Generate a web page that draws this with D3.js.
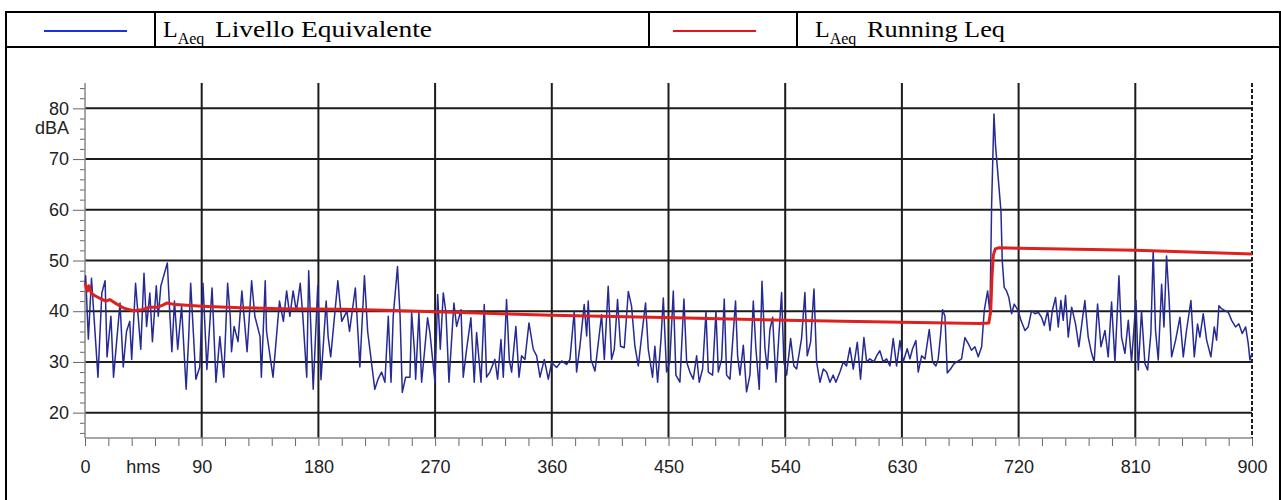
<!DOCTYPE html>
<html>
<head>
<meta charset="utf-8">
<script src="https://cdn.jsdelivr.net/npm/d3@7"></script>
<style>
  body { margin: 0; background: #fff; }
  svg { display: block; }
</style>
</head>
<body>
<svg id="chart" width="1281" height="500"></svg>
<script>
// ---------- data ----------
const yMajorTicks = [20, 30, 40, 50, 60, 70, 80];
const xMajorTicks = [0, 90, 180, 270, 360, 450, 540, 630, 720, 810, 900];

// LAeq (blue), [seconds, dBA], one array per quarter of the record
const laeqQ1 = [[0,45],[0.5,47],[2.6,34.5],[5,46.5],[10,27],[13,43.6],[15.5,46],[17,31],[20,39],[22,27],
  [27,41.6],[29.5,29],[32,36],[34.5,38],[36,30.5],[39,45.5],[43,32.5],[45.5,47.5],[47.5,37],[50,43.6],
  [52,34],[55,45],[56.5,39],[58.5,45],[63.5,49.5],[65.5,39],[67,32],[69,42],[71.5,32.5],[74.5,41],
  [78,24.6],[80,35],[81.5,45.5],[85.5,26.6],[88.5,29],[91,45.5],[94,28.5],[98,44.6],[101,26],[104,35],
  [107,27],[110,45.5],[112,39],[113,32],[115,37],[118,34],[121,44],[125,32],[128.5,46],[131,39],
  [135,35],[136,27],[139,46],[140,36],[145,27],[150,42],[153,38],[155.5,44],[158,39],[160.5,44],
  [163,40],[166,45.5],[168,39],[171,27],[172.5,48],[176,24.6],[179.5,45],[182,26.5],[186,42],[187.5,35],
  [189.5,31],[195,46],[198,38],[202,40],[204,36],[208.5,44.6],[212,29],[215.5,47],[218,36],[223.5,24.6]];

const laeqQ2 = [[226,26.6],[228.7,28],[231.3,26],[233.9,39],[236,26],[237.7,39],[241,48.8],[243,39],[244.7,24],[247.3,27],
  [250.6,27],[251.9,39.7],[254,32.5],[255,26.6],[257.5,39.7],[259.6,26],[262,32.5],[264.2,38.7],[266,35.8],[267.8,31.2],
  [269.9,26],[272,43.3],[274,32.5],[276.3,43.6],[278.4,39.7],[280.7,26],[284.5,41.6],[286.6,37],[290,40.3],[291.7,27],
  [294.3,32.5],[297.6,38.7],[300.2,26],[302,35.8],[305.4,26],[307.9,41.3],[309.7,27],[312.3,28],[316.1,30.5],[318.2,26.6],
  [320.8,34.4],[322.6,27],[325.1,42.3],[327.2,30.5],[329,28],[332.3,37],[334.7,27],[336.7,31.2],[339.3,30.5],[342.4,37.7],
  [345.7,32.5],[348.3,31.2],[350.9,27],[354.2,30.5],[357.3,26.6],[359.9,29.9],[363.7,28.9],[367.6,30.2],[371.4,29.5],[374,30.5],
  [377.3,40],[379.1,28],[381.7,33.1],[385,41.3],[386.9,35.1],[388.1,42],[390.2,30.5],[393.3,28.2],[395.3,32.5],[398.4,39.3],
  [400.5,30.5],[403.5,44.9],[406.1,30.5],[408.2,32.5],[410.7,42.3],[413,33.1],[415.9,32.8],[419,43.9],[421.5,41],[424.1,33.1],
  [426.7,29.2],[429.3,35.1],[432.3,41.6],[434.4,32.5],[437.7,27],[439.5,33.1],[441.6,26],[444.2,34.4],[446,42.6],[448.5,28],
  [451,30],[453.7,44]];

const laeqQ3 = [[455.7,27.4],[458.8,26],[461.9,42.4],[464,30],[466.5,28],[469.1,26.6],[471.7,31.2],[473.7,26],[476.3,28.6],[478.9,39.8],
  [480.7,28],[484,27.4],[486.6,40],[488.4,28],[491,30.6],[493,42.4],[494.8,27.4],[497.4,26.6],[501.7,42],[503.3,31.2],
  [505.1,27.4],[507.7,33.3],[510.2,24.1],[512.8,27.4],[515.4,42],[517.4,32.6],[520,24.6],[522.1,45.9],[524.4,32.6],[526.2,28.6],
  [528.2,36.4],[530.3,38.8],[532.9,26],[537.2,43.7],[539,30],[541.1,27.4],[544.2,34.6],[546.7,29.2],[548.8,28.6],[552.6,34.6],
  [555.2,43.7],[557,31.2],[559.6,33.9],[562.2,44.4],[564.2,30],[566.8,26],[569.4,28.6],[571.9,28],[574.5,26],[577,27.4],
  [579.1,26],[582.2,28],[584.8,30],[587.3,29.2],[589.9,32.8],[592.5,28.6],[595.6,33.9],[598.1,26.6],[600.7,34.8],[602.8,30],
  [605.3,30.6],[608.4,30],[610.5,31.2],[613,32.2],[615.6,30],[618.2,30.6],[620.8,29.2],[623.3,34.6],[625.9,29.2],[628.5,34.2],
  [631,30],[634.1,32.6],[636.2,30.6],[638.2,32.6],[640.8,34.2],[642.6,28],[645.2,31.2],[647.8,30.6],[651.1,36.4],[653.7,30],
  [656.2,29.2],[658,30.6],[659.8,35.2],[661.4,40.3],[663.2,39],[665,27.8],[667.5,28.6],[670.1,29.6],[673.5,30.2],[676,30.6],
  [678.6,34.8]];

const laeqQ4 = [[681.2,33.6],[683.7,32.3],[686.3,33],[688.9,31],[691.5,33],[693.5,40.1],[696.1,44],[697.9,39.5],[699.2,61],[701,78.9],
  [702.2,72.7],[704.3,66.2],[706.4,59.7],[707.4,49.9],[708.9,44.7],[710.7,44],[712.5,42.7],[714.6,39.5],[716.6,41.4],[719.7,40.1],
  [721.8,38.2],[724.9,36.2],[727.4,36.9],[730,40.1],[732.6,39.5],[735.2,39.8],[737.7,38.8],[739.8,37.2],[742.4,40.1],[744.2,36.2],
  [746,40.1],[748.5,42.7],[750.6,36.9],[752.6,42.1],[754.4,38.2],[756.2,43.1],[758.3,34.9],[760.9,40.8],[763.9,37.5],[766.5,33],
  [769.1,38.2],[771.1,42.1],[773.7,34.9],[776.3,31.7],[778.3,30],[780.9,41.4],[783.5,33],[786.6,36.2],[789.1,31],[791.7,41.8],
  [794.3,30],[797.4,47],[799.4,34.9],[802,31.7],[804.6,38.2],[807.1,30],[810.5,42.1],[812.3,28.4],[814.8,40.1],[817.4,29.7],
  [819.5,28.4],[822,35.6],[823.8,51.9],[825.6,36.2],[827.7,30.4],[830.3,45.3],[832.1,36.9],[834.1,50.9],[836,42.7],[838,31],
  [841.1,34.3],[844.4,38.8],[847,31],[849.5,36.2],[852.9,42.1],[855.5,31],[858,37.5],[859.8,34.9],[862.4,39.5],[865,34.3],
  [868.3,31],[870.9,36.9],[872.7,34.3],[874.5,41.1],[876.5,40.5],[879.1,40.1],[881.7,39.8],[884.3,38.2],[887.3,36.9],[889.9,37.5],
  [892.5,35.6],[895.1,36.9],[897.1,33.6],[898.4,30.4],[900,31.7]];

// Running Leq (red)
const runningLeq = [[0,45.5],[2,44],[3,45],[5,43.5],[8,43],[12,42.5],[16,42],[19,42.3],[24,41.5],[30,40.6],
  [37,40.1],[44,40.3],[50,40.8],[56,40.8],[60,41.2],[63,41.6],[70,41.3],[90,41.0],[120,40.7],[150,40.5],
  [200,40.4],[230,40.2],[270,39.9],[360,39.2],[455,38.7],[540,38.2],[630,37.8],[690,37.6],[697,37.7],[698.5,40],
  [699.5,47],[700.5,51],[702,52.3],[705,52.5],[720,52.4],[810,52.0],[900,51.3]];

const legendItems = [
  {label: 'Livello Equivalente', color: '#1533e8'},
  {label: 'Running Leq', color: '#e8141c'}
];

// ---------- chart ----------
const chart = {
  plot: {left: 85, right: 1252, top: 83, bottom: 438},
  font: '"Liberation Sans", Arial, sans-serif',
  serif: '"Liberation Serif", "Times New Roman", serif'
};

const svg = d3.select('#chart');
const p = chart.plot;

const xScale = d3.scaleLinear().domain([0, 900]).range([p.left, p.right]);
const yScale = d3.scaleLinear().domain([15, 85]).range([p.bottom, p.top]);

// outer frame + legend row
const frame = svg.append('g').attr('stroke', '#000').attr('stroke-width', 2).attr('fill', 'none');
frame.append('line').attr('x1', 6).attr('x2', 1281).attr('y1', 12).attr('y2', 12);
frame.append('line').attr('x1', 6).attr('x2', 1281).attr('y1', 47).attr('y2', 47);
frame.append('line').attr('x1', 6).attr('x2', 6).attr('y1', 11).attr('y2', 500);
frame.append('line').attr('x1', 1280).attr('x2', 1280).attr('y1', 11).attr('y2', 500);
[155, 649, 797].forEach(x => {
  frame.append('line').attr('x1', x).attr('x2', x).attr('y1', 12).attr('y2', 47);
});

// legend
const legendPos = [{lineX: 44, textX: 163}, {lineX: 673, textX: 815}];
legendItems.forEach((item, i) => {
  const g = svg.append('g');
  const pos = legendPos[i];
  g.append('line')
    .attr('x1', pos.lineX).attr('x2', pos.lineX + 83)
    .attr('y1', 31).attr('y2', 31)
    .attr('stroke', item.color).attr('stroke-width', 2);
  const t = g.append('text')
    .attr('x', pos.textX).attr('y', 37)
    .style('font-family', chart.serif).style('font-size', '24px').attr('fill', '#000');
  t.append('tspan').text('L');
  t.append('tspan').attr('dy', 7).style('font-size', '16px').text('Aeq');
  g.append('text')
    .attr('x', pos.textX + 52).attr('y', 37)
    .style('font-family', chart.serif).style('font-size', '24px').attr('fill', '#000')
    .attr('textLength', i === 0 ? 217 : 138).attr('lengthAdjust', 'spacingAndGlyphs')
    .text(item.label);
});

// grid
const grid = svg.append('g').attr('stroke', '#1c1c1c').attr('stroke-width', 2);
grid.selectAll('.hgrid').data(yMajorTicks).enter().append('line')
  .attr('class', 'hgrid')
  .attr('x1', p.left).attr('x2', p.right)
  .attr('y1', d => yScale(d)).attr('y2', d => yScale(d));
grid.selectAll('.vgrid').data(xMajorTicks.slice(1, -1)).enter().append('line')
  .attr('class', 'vgrid')
  .attr('x1', d => xScale(d)).attr('x2', d => xScale(d))
  .attr('y1', p.top).attr('y2', p.bottom);
grid.append('line')
  .attr('x1', xScale(900)).attr('x2', xScale(900))
  .attr('y1', p.top).attr('y2', p.bottom)
  .attr('stroke-dasharray', '4,2');

// axes
const yMinor = d3.range(16, 85, 2).filter(v => v % 10 !== 0);
const xMinor = d3.range(0, 901, 18).filter(v => v % 90 !== 0);

const yAxisG = svg.append('g').attr('transform', `translate(${p.left},0)`);
yAxisG.call(d3.axisLeft(yScale).tickValues(yMinor).tickSize(5).tickFormat(''));
yAxisG.call(g => g.select('.domain').remove());
const yAxisMajor = svg.append('g').attr('transform', `translate(${p.left},0)`)
  .call(d3.axisLeft(yScale).tickValues(yMajorTicks).tickSize(12).tickPadding(4));
yAxisMajor.select('.domain').remove();
yAxisMajor.selectAll('text').style('font-family', chart.font).style('font-size', '18px').attr('fill', '#222');

const xAxisG = svg.append('g').attr('transform', `translate(0,${p.bottom})`);
xAxisG.call(d3.axisBottom(xScale).tickValues(xMinor).tickSize(8).tickFormat(''));
xAxisG.call(g => g.select('.domain').remove());
const xAxisMajor = svg.append('g').attr('transform', `translate(0,${p.bottom})`)
  .call(d3.axisBottom(xScale).tickValues(xMajorTicks).tickSize(8).tickPadding(14));
xAxisMajor.select('.domain').remove();
xAxisMajor.selectAll('text').style('font-family', chart.font).style('font-size', '18px').attr('fill', '#222');

svg.selectAll('.tick line').attr('stroke', '#666');

// axis lines
svg.append('line').attr('x1', p.left).attr('x2', p.left).attr('y1', p.top).attr('y2', p.bottom)
  .attr('stroke', '#888').attr('stroke-width', 1.5);
svg.append('line').attr('x1', p.left).attr('x2', p.right).attr('y1', p.bottom).attr('y2', p.bottom)
  .attr('stroke', '#888').attr('stroke-width', 1.5);

// unit labels
svg.append('text').attr('x', p.left - 16).attr('y', yScale(75))
  .attr('text-anchor', 'end')
  .style('font-family', chart.font).style('font-size', '18px').attr('fill', '#222')
  .text('dBA');
svg.append('text').attr('x', xScale(45)).attr('y', p.bottom + 35)
  .attr('text-anchor', 'middle')
  .style('font-family', chart.font).style('font-size', '18px').attr('fill', '#222')
  .text('hms');

// series
const line = d3.line().x(d => xScale(d[0])).y(d => yScale(d[1]));
const laeq = laeqQ1.concat(laeqQ2, laeqQ3, laeqQ4);

svg.append('path').datum(laeq)
  .attr('d', line)
  .attr('fill', 'none')
  .attr('stroke', '#262a94')
  .attr('stroke-width', 1.5)
  .attr('stroke-linejoin', 'round');

svg.append('path').datum(runningLeq)
  .attr('d', line)
  .attr('fill', 'none')
  .attr('stroke', '#e0201e')
  .attr('stroke-width', 3)
  .attr('stroke-linejoin', 'round');
</script>
</body>
</html>
